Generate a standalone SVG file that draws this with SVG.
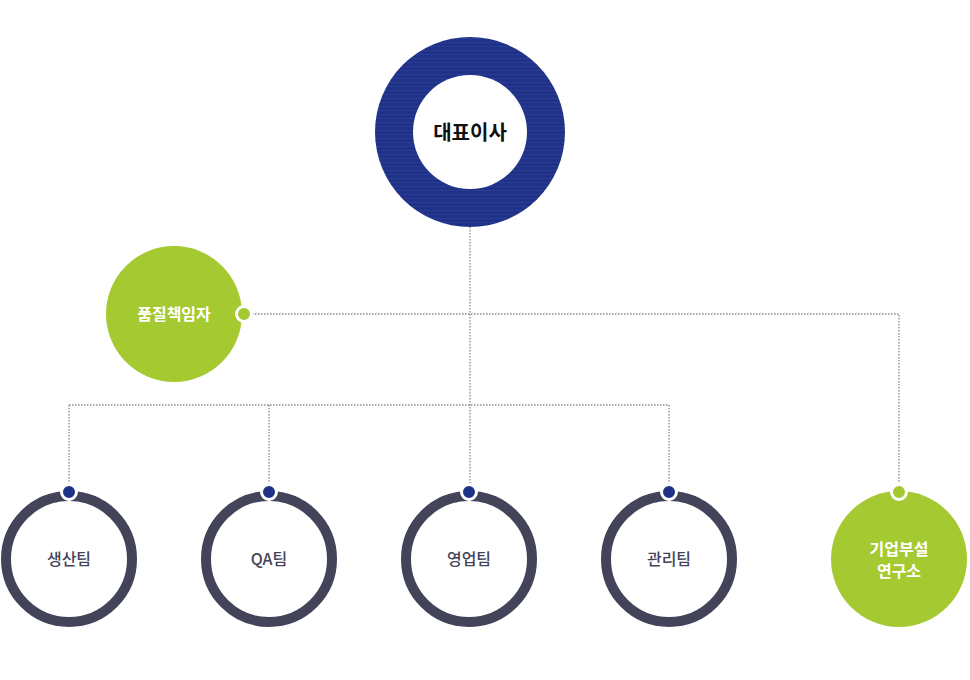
<svg xmlns="http://www.w3.org/2000/svg" width="970" height="680" viewBox="0 0 970 680">
<style>
.ln{stroke:#8a8a8a;stroke-width:1.3;stroke-dasharray:1.5 1.5;fill:none}
.ring{fill:#fff;stroke:#434359;stroke-width:10}
.t{font-family:"Noto Sans CJK KR","Noto Sans",sans-serif;font-size:16px;text-anchor:middle;font-weight:500}
.dk{fill:#434359}
.w{fill:#fff;font-weight:700}
</style>
<defs>
<pattern id="st" width="4" height="4" patternUnits="userSpaceOnUse">
<rect width="4" height="4" fill="#1f3288"/>
<rect y="2" width="4" height="1" fill="#2a3c94"/>
</pattern>
</defs>
<g id="connectors">
<path class="ln" d="M470 227V484M252 314H899V484M69 405H669M69 405V484M269 405V484M669 405V484"/>
</g>
<g id="ceo">
<circle cx="470" cy="132" r="95" fill="url(#st)"/>
<circle cx="470" cy="132" r="57" fill="#fff"/>
<text class="t" x="470" y="140" font-size="20" font-weight="700" fill="#111" style="font-size:20px;font-weight:700">대표이사</text>
</g>
<g id="quality">
<circle cx="174" cy="314" r="68" fill="#a5c930"/>
<circle cx="244" cy="314" r="7.5" fill="#a5c930" stroke="#fff" stroke-width="3"/>
<text class="t w" x="174" y="320">품질책임자</text>
</g>
<g id="prod">
<circle class="ring" cx="69" cy="559" r="63"/>
<circle cx="69" cy="492" r="7.5" fill="#1f3288" stroke="#fff" stroke-width="3"/>
<text class="t dk" x="69" y="565">생산팀</text>
</g>
<g id="qa">
<circle class="ring" cx="269" cy="559" r="63"/>
<circle cx="269" cy="492" r="7.5" fill="#1f3288" stroke="#fff" stroke-width="3"/>
<text class="t dk" x="269" y="565">QA팀</text>
</g>
<g id="sales">
<circle class="ring" cx="469" cy="559" r="63"/>
<circle cx="469" cy="492" r="7.5" fill="#1f3288" stroke="#fff" stroke-width="3"/>
<text class="t dk" x="469" y="565">영업팀</text>
</g>
<g id="mgmt">
<circle class="ring" cx="669" cy="559" r="63"/>
<circle cx="669" cy="492" r="7.5" fill="#1f3288" stroke="#fff" stroke-width="3"/>
<text class="t dk" x="669" y="565">관리팀</text>
</g>
<g id="lab">
<circle cx="899" cy="559" r="68" fill="#a5c930"/>
<circle cx="899" cy="492" r="7.5" fill="#a5c930" stroke="#fff" stroke-width="3"/>
<text class="t w" x="899" y="555">기업부설</text>
<text class="t w" x="899" y="577">연구소</text>
</g>
</svg>
